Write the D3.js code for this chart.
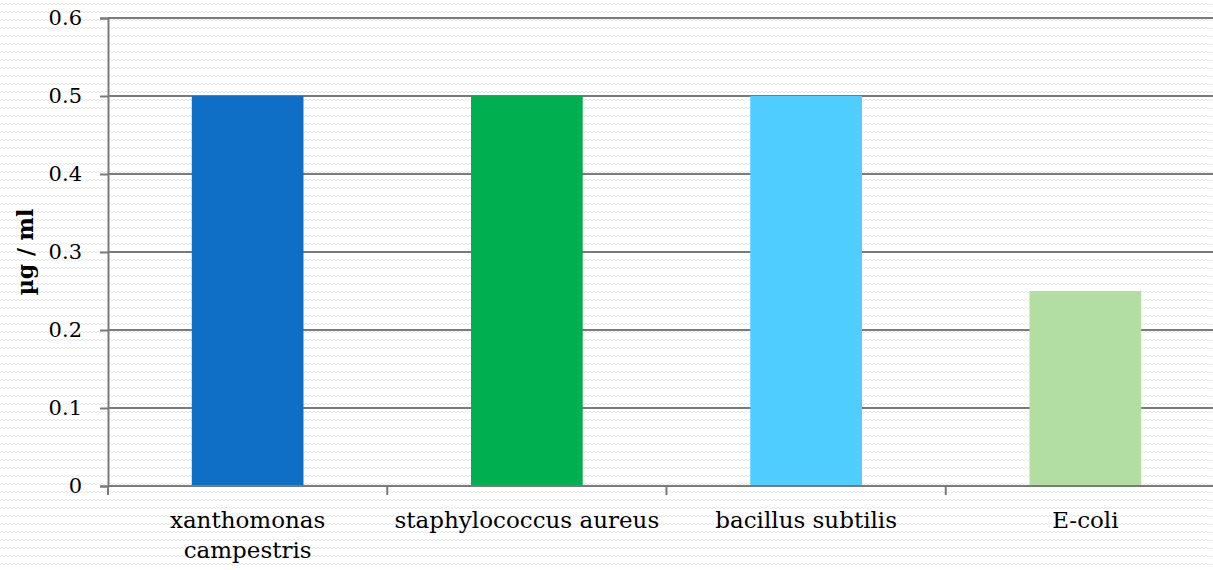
<!DOCTYPE html>
<html><head><meta charset="utf-8">
<script src="https://cdn.jsdelivr.net/npm/d3@7"></script>
<style>
html,body{margin:0;padding:0;background:#fff;overflow:hidden;}
svg{display:block;}
</style></head>
<body>
<script>
const categories = [["xanthomonas","campestris"],["staphylococcus aureus"],["bacillus subtilis"],["E-coli"]];
const values = [0.5, 0.5, 0.5, 0.25];
const colors = ["#0F6FC6","#00B050","#4FCDFF","#B2DFA1"];
const yTicks = [0, 0.1, 0.2, 0.3, 0.4, 0.5, 0.6];
const yTickLabels = ["0","0.1","0.2","0.3","0.4","0.5","0.6"];
const yTitle = "µg / ml";

const W = 1213, H = 570;
const m = {left:108, top:18, bottom:84};
const plotRight = 1225;
const svg = d3.select("body").append("svg").attr("width",W).attr("height",H);

const defs = svg.append("defs");
const pat = defs.append("pattern").attr("id","wave").attr("patternUnits","userSpaceOnUse")
  .attr("width",8).attr("height",8);
pat.append("path").attr("d","M0,5 L2,3 L4,5 L6,3 L8,5").attr("fill","none")
  .attr("stroke","#ececec").attr("stroke-width",1);
svg.append("rect").attr("width",W).attr("height",H).attr("fill","#fff");
svg.append("rect").attr("width",W).attr("height",H).attr("fill","url(#wave)");

const x = d3.scaleBand().domain(d3.range(categories.length)).range([m.left, plotRight]).paddingInner(0.6).paddingOuter(0.3);
const xb = d3.scaleBand().domain(d3.range(categories.length)).range([m.left, plotRight]);
const y = d3.scaleLinear().domain([0,0.6]).range([H-m.bottom, m.top]);

const font = "'DejaVu Serif', serif";
const gridColor = "#7a7a7a";

// gridlines
svg.append("g").selectAll("line").data(yTicks.filter(d=>d>0)).join("line")
  .attr("x1",m.left).attr("x2",W).attr("y1",d=>y(d)).attr("y2",d=>y(d))
  .attr("stroke",gridColor).attr("stroke-width",2);

// bars
svg.append("g").selectAll("rect").data(values).join("rect")
  .attr("x",(d,i)=>x(i)).attr("width",x.bandwidth())
  .attr("y",d=>y(d)).attr("height",d=>y(0)-y(d))
  .attr("fill",(d,i)=>colors[i]);

// y axis
const yAxis = d3.axisLeft(y).tickValues(yTicks).tickFormat((d,i)=>yTickLabels[i]).tickSize(8).tickPadding(18);
const gy = svg.append("g").attr("transform",`translate(${m.left},0)`).call(yAxis);
gy.select(".domain").attr("stroke",gridColor).attr("stroke-width",2);
gy.selectAll(".tick line").attr("stroke",gridColor).attr("stroke-width",2);
gy.selectAll(".tick text").attr("font-family",font).attr("font-size",21).attr("fill","#000");

// x axis
const gx = svg.append("g").attr("transform",`translate(0,${y(0)})`);
gx.append("line").attr("x1",m.left).attr("x2",W).attr("stroke",gridColor).attr("stroke-width",2);
gx.selectAll("line.tk").data(d3.range(0,categories.length)).join("line").attr("class","tk")
  .attr("x1",i=>xb(i)).attr("x2",i=>xb(i)).attr("y1",0).attr("y2",9)
  .attr("stroke",gridColor).attr("stroke-width",2);

// x labels
const lab = svg.append("g").selectAll("text").data(categories).join("text")
  .attr("font-family",font).attr("font-size",23).attr("text-anchor","middle").attr("fill","#000")
  .attr("transform",(d,i)=>`translate(${xb(i)+xb.bandwidth()/2},${y(0)+42})`);
lab.selectAll("tspan").data(d=>d).join("tspan").attr("x",0).attr("dy",(d,j)=>j===0?0:30).text(d=>d);

// y title
svg.append("text").attr("transform",`translate(33,${(y(0)+y(0.6))/2}) rotate(-90)`)
  .attr("text-anchor","middle").attr("font-family",font).attr("font-weight","bold").attr("font-size",22)
  .attr("fill","#000").text(yTitle);
</script>
</body></html>
